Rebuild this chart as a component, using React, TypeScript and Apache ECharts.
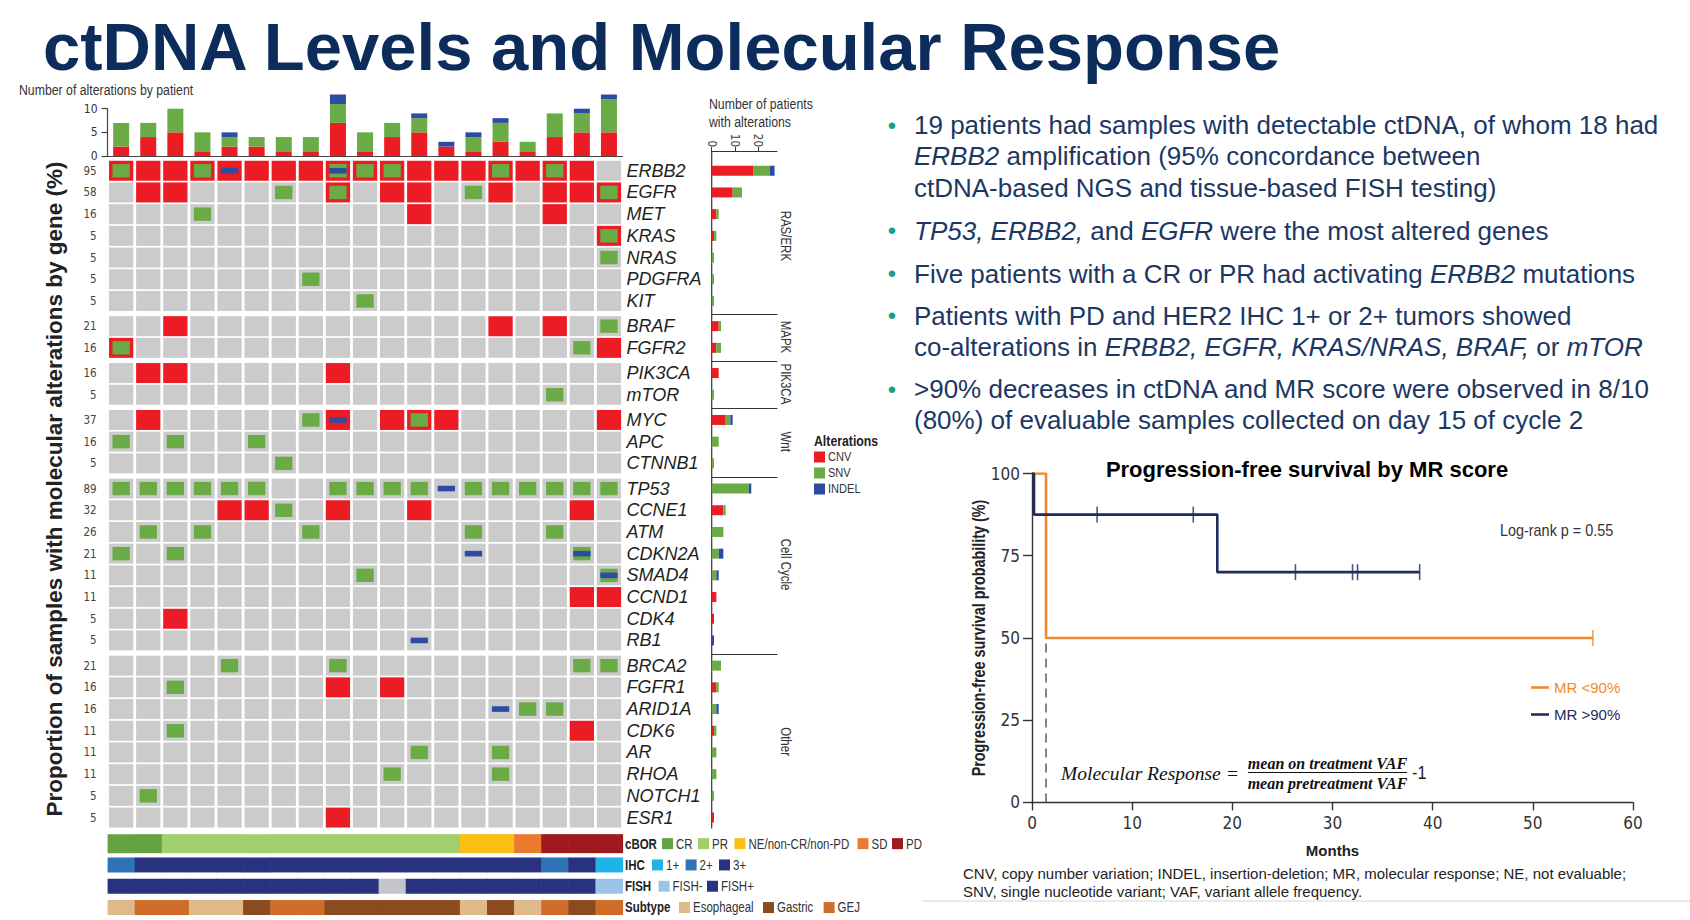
import React, { useEffect, useRef } from "react";
import * as echarts from "echarts";

const NARROW = "'Liberation Sans Narrow', 'Arial Narrow', 'DejaVu Sans Condensed', sans-serif";
const SANS = "'Liberation Sans', Arial, Helvetica, sans-serif";
const SERIF = "'Liberation Serif', 'Times New Roman', serif";
const NSCALE = 0.82; // horizontal squeeze that emulates a condensed face

const RED = "#ec1c24";
const GREEN = "#6aab45";
const BLUE = "#2d4ba0";
const GRAY = "#cbcbcb";
const TITLE_NAVY = "#0c2c5c";
const TEXT_NAVY = "#1c3764";
const TEAL = "#17a08a";
const KM_NAVY = "#222b5e";
const KM_ORANGE = "#ef8a2a";

// ---------------- data ----------------
const patients = ["P1","P2","P3","P4","P5","P6","P7","P8","P9","P10","P11","P12","P13","P14","P15","P16","P17","P18","P19"];

const patientCNV = [2,4,5,1,2,2,1,1,7,1,4,5,2,1,3,1,4,5,5];
const patientSNV = [5,3,5,4,2,2,3,3,4,4,3,3,0,3,4,2,5,4,7];
const patientINDEL = [0,0,0,0,1,0,0,0,2,0,0,1,1,1,1,0,0,1,1];

const groupLabels = ["RAS/ERK","MAPK","PIK3CA","Wnt","Cell Cycle","Other"];
const geneGroupSize = [7,2,2,3,8,8];
const geneNames = [
  "ERBB2","EGFR","MET","KRAS","NRAS","PDGFRA","KIT",
  "BRAF","FGFR2",
  "PIK3CA","mTOR",
  "MYC","APC","CTNNB1",
  "TP53","CCNE1","ATM","CDKN2A","SMAD4","CCND1","CDK4","RB1",
  "BRCA2","FGFR1","ARID1A","CDK6","AR","RHOA","NOTCH1","ESR1",
];
const genePercent = [95,58,16,5,5,5,5,21,16,16,5,37,16,5,89,32,26,21,11,11,5,5,21,16,16,11,11,11,5,5];
const geneCNV =   [18,9,2,1,0,0,0, 3,2, 3,0, 6,0,0, 0,5,0,0,0,2,1,0, 0,2,0,1,0,0,0,1];
const geneSNV =   [7,4,1,1,1,1,1, 1,2, 0,1, 2,3,1, 16,1,5,3,2,0,0,0, 4,1,2,1,2,2,1,0];
const geneINDEL = [2,0,0,0,0,0,0, 0,0, 0,0, 1,0,0, 1,0,0,2,1,0,0,1, 0,0,1,0,0,0,0,0];

// patient number (1-based) -> alteration code (C = CNV, S = SNV, I = INDEL)
const geneAlterations: Record<string, [number, string][]> = {
  ERBB2: [[1,"CS"],[2,"C"],[3,"C"],[4,"CS"],[5,"CI"],[6,"C"],[7,"C"],[8,"C"],[9,"CSI"],[10,"CS"],[11,"CS"],[12,"C"],[13,"C"],[14,"C"],[15,"CS"],[16,"C"],[17,"CS"],[18,"C"]],
  EGFR: [[2,"C"],[3,"C"],[7,"S"],[9,"CS"],[11,"C"],[12,"C"],[14,"S"],[15,"C"],[17,"C"],[18,"C"],[19,"CS"]],
  MET: [[4,"S"],[12,"C"],[17,"C"]],
  KRAS: [[19,"CS"]],
  NRAS: [[19,"S"]],
  PDGFRA: [[8,"S"]],
  KIT: [[10,"S"]],
  BRAF: [[3,"C"],[15,"C"],[17,"C"],[19,"S"]],
  FGFR2: [[1,"CS"],[18,"S"],[19,"C"]],
  PIK3CA: [[2,"C"],[3,"C"],[9,"C"]],
  mTOR: [[17,"S"]],
  MYC: [[2,"C"],[8,"S"],[9,"CI"],[11,"C"],[12,"CS"],[13,"C"],[19,"C"]],
  APC: [[1,"S"],[3,"S"],[6,"S"]],
  CTNNB1: [[7,"S"]],
  TP53: [[1,"S"],[2,"S"],[3,"S"],[4,"S"],[5,"S"],[6,"S"],[9,"S"],[10,"S"],[11,"S"],[12,"S"],[13,"I"],[14,"S"],[15,"S"],[16,"S"],[17,"S"],[18,"S"],[19,"S"]],
  CCNE1: [[5,"C"],[6,"C"],[7,"S"],[9,"C"],[12,"C"],[18,"C"]],
  ATM: [[2,"S"],[4,"S"],[8,"S"],[14,"S"],[17,"S"]],
  CDKN2A: [[1,"S"],[3,"S"],[14,"I"],[18,"SI"]],
  SMAD4: [[10,"S"],[19,"SI"]],
  CCND1: [[18,"C"],[19,"C"]],
  CDK4: [[3,"C"]],
  RB1: [[12,"I"]],
  BRCA2: [[5,"S"],[9,"S"],[18,"S"],[19,"S"]],
  FGFR1: [[3,"S"],[9,"C"],[11,"C"]],
  ARID1A: [[15,"I"],[16,"S"],[17,"S"]],
  CDK6: [[3,"S"],[18,"C"]],
  AR: [[12,"S"],[15,"S"]],
  RHOA: [[11,"S"],[15,"S"]],
  NOTCH1: [[2,"S"]],
  ESR1: [[9,"C"]],
};

const trackNames = ["cBOR","IHC","FISH","Subtype"];
const cborTrack = ["CR","CR","PR","PR","PR","PR","PR","PR","PR","PR","PR","PR","PR","NE","NE","SD","PD","PD","PD"];
const ihcTrack = ["2+","3+","3+","3+","3+","3+","3+","3+","3+","3+","3+","3+","3+","3+","3+","3+","2+","3+","1+"];
const fishTrack = ["+","+","+","+","+","+","+","+","+","+","NA","+","+","+","+","+","+","+","-"];
const subtypeTrack = ["Eso","GEJ","GEJ","Eso","Eso","Gas","GEJ","GEJ","Gas","Gas","Gas","Gas","Gas","Eso","Gas","Eso","GEJ","Gas","GEJ"];

const trackColors: Record<string, string>[] = [
  { CR: "#64a243", PR: "#a0cf6c", NE: "#fdbf14", SD: "#ec7a2e", PD: "#9f1a1f" },
  { "1+": "#1fb3e8", "2+": "#2f73b6", "3+": "#29327f" },
  { "-": "#9cc4e8", "+": "#29327f", NA: "#c4c4cc" },
  { Eso: "#ddb98b", Gas: "#8c4a1f", GEJ: "#d06c2a" },
];

// Kaplan-Meier (months, % survival)
const kmLowMR = [[0,100],[1.4,50],[56,50]];
const kmHighMR = [[0,100],[0.2,87.5],[18.5,70],[38.7,70]];
const censorLowMR = [[56,50]];
const censorHighMR = [[6.5,87.5],[16.1,87.5],[26.3,70],[32.0,70],[32.5,70],[38.7,70]];
const medianLowMR = [[1.4,0],[1.4,50]];

// ---------------- layout ----------------
const W = 1690, H = 920;
const COL_L = 107.6, COL_W = 514.9;
const ROW_H = 21.7, GROUP_GAP = 3.5, GRID_TOP0 = 159.9;
const RB_L = 711.7, RB_W = 65.2, RB_MAX = 28;
const ANNO_TOP = 833, ANNO_H = 85.2;
const trackHeights = [19, 15, 15, 15];

function renderCell(params: any, api: any) {
  const c = api.coord([api.value(0), api.value(1)]);
  const m = api.value(2);
  const band = api.size([1, 1]);
  const w = band[0] - 2.8, h = band[1] - 1.7;
  const x0 = c[0] - w / 2, y0 = c[1] - h / 2;
  const kids: any[] = [
    { type: "rect", shape: { x: x0, y: y0, width: w, height: h }, style: { fill: m & 1 ? RED : GRAY } },
  ];
  if (m & 2) kids.push({ type: "rect", shape: { x: x0 + 3.5, y: y0 + 3.3, width: w - 7, height: h - 6.6 }, style: { fill: GREEN } });
  if (m & 4) kids.push({ type: "rect", shape: { x: x0 + 3.5, y: c[1] - 2.8, width: w - 7, height: 5.6 }, style: { fill: BLUE } });
  return { type: "group", children: kids };
}

function buildOption() {
  const grid: any[] = [], xAxis: any[] = [], yAxis: any[] = [], series: any[] = [], graphic: any[] = [];
  const hidden = { show: false };

  const text = (x: number, y: number, t: string, st: any = {}, extra: any = {}) => ({
    type: "text", x, y, ...extra,
    style: { text: t, fontFamily: SANS, fontSize: 14, fill: "#222", textAlign: "left", textVerticalAlign: "middle", ...st },
  });
  const ntext = (x: number, y: number, t: string, st: any = {}, extra: any = {}) =>
    text(x, y, t, st, { scaleX: NSCALE, ...extra });
  const sq = (x: number, y: number, color: string, s = 11) => ({ type: "rect", shape: { x, y: y - s / 2, width: s, height: s }, style: { fill: color } });

  // top bars: alterations by patient
  grid.push({ left: COL_L, top: 108.7, width: COL_W, height: 47.3 });
  xAxis.push({ type: "category", gridIndex: 0, data: patients, axisLine: { show: true, lineStyle: { color: "#444", width: 1.2 } }, axisTick: hidden, axisLabel: hidden });
  yAxis.push({
    type: "value", gridIndex: 0, min: 0, max: 10, interval: 5,
    axisLine: { show: true, lineStyle: { color: "#444", width: 1.2 } },
    axisTick: { show: true, length: 6, lineStyle: { color: "#444", width: 1.2 } },
    axisLabel: { fontFamily: NARROW, fontSize: 12, color: "#333", margin: 10 },
    splitLine: hidden,
  });
  const topBar = (name: string, data: number[], color: string) => ({
    type: "bar", name, xAxisIndex: 0, yAxisIndex: 0, stack: "top", data, barWidth: 16, clip: false, silent: true, itemStyle: { color },
  });
  series.push(topBar("CNV", patientCNV, RED), topBar("SNV", patientSNV, GREEN), topBar("INDEL", patientINDEL, BLUE));

  // oncoprint groups + right bars
  const tops: number[] = [];
  let yCursor = GRID_TOP0;
  geneGroupSize.forEach((n) => { tops.push(yCursor); yCursor += n * ROW_H + GROUP_GAP; });

  let start = 0;
  tops.forEach((top, g) => {
    const n = geneGroupSize[g];
    const genes = geneNames.slice(start, start + n);
    const pcts = genePercent.slice(start, start + n).map(String);
    const height = n * ROW_H;

    const gi = grid.length;
    grid.push({ left: COL_L, top, width: COL_W, height });
    const xi = xAxis.length;
    xAxis.push({ type: "category", gridIndex: gi, data: patients, show: false });
    yAxis.push({
      type: "category", gridIndex: gi, data: pcts, inverse: true, position: "left",
      axisLine: hidden, axisTick: hidden,
      axisLabel: { interval: 0, fontFamily: NARROW, fontSize: 11.5, color: "#444", margin: 11 },
    });
    const yiR = yAxis.length;
    yAxis.push({
      type: "category", gridIndex: gi, data: genes, inverse: true, position: "right",
      axisLine: hidden, axisTick: hidden,
      axisLabel: { interval: 0, fontFamily: SANS, fontStyle: "italic", fontSize: 18, color: "#231f20", margin: 4 },
    });
    const cells: number[][] = [];
    genes.forEach((gene, r) => {
      const map = new Map<number, string>(geneAlterations[gene].map(([p, c]) => [p, c] as [number, string]));
      patients.forEach((_, p) => {
        const code = map.get(p + 1) || "";
        const mask = (code.includes("C") ? 1 : 0) | (code.includes("S") ? 2 : 0) | (code.includes("I") ? 4 : 0);
        cells.push([p, r, mask]);
      });
    });
    series.push({ type: "custom", xAxisIndex: xi, yAxisIndex: yiR, data: cells, renderItem: renderCell, silent: true, encode: { x: 0, y: 1 } });

    const rgi = grid.length;
    grid.push({ left: RB_L, top, width: RB_W, height });
    const rxi = xAxis.length;
    xAxis.push({
      type: "value", gridIndex: rgi, min: 0, max: RB_MAX, interval: 10, position: "top",
      offset: g === 0 ? 8.9 : 0.8,
      axisLine: { show: true, lineStyle: { color: "#333", width: 1.2 } },
      axisTick: { show: g === 0, length: 4, lineStyle: { color: "#333", width: 1 } },
      axisLabel: { show: g === 0, rotate: 90, fontFamily: NARROW, fontSize: 11.5, color: "#444", margin: 4, showMaxLabel: false },
      splitLine: hidden,
    });
    const ryi = yAxis.length;
    yAxis.push({ type: "category", gridIndex: rgi, data: genes, inverse: true, show: false });
    const rb = (name: string, arr: number[], color: string) => ({
      type: "bar", name, xAxisIndex: rxi, yAxisIndex: ryi, stack: "rb" + g, barWidth: 10, silent: true,
      data: arr.slice(start, start + n), itemStyle: { color },
    });
    series.push(rb("CNV", geneCNV, RED), rb("SNV", geneSNV, GREEN), rb("INDEL", geneINDEL, BLUE));

    graphic.push(ntext(785.5, top + height / 2, groupLabels[g], { fontSize: 14, fill: "#333", textAlign: "center" }, { rotation: -Math.PI / 2, scaleX: NSCALE }));
    start += n;
  });

  // annotation tracks
  const palette: string[] = [];
  const annoData: number[][] = [];
  [cborTrack, ihcTrack, fishTrack, subtypeTrack].forEach((track, t) => {
    track.forEach((key, p) => {
      palette.push(trackColors[t][key]);
      annoData.push([p, t, palette.length - 1]);
    });
  });
  const agi = grid.length;
  grid.push({ left: COL_L, top: ANNO_TOP, width: COL_W, height: ANNO_H });
  const axi = xAxis.length;
  xAxis.push({ type: "category", gridIndex: agi, data: patients, show: false });
  const ayi = yAxis.length;
  yAxis.push({ type: "category", gridIndex: agi, data: trackNames, inverse: true, show: false });
  series.push({
    type: "custom", xAxisIndex: axi, yAxisIndex: ayi, data: annoData, silent: true, encode: { x: 0, y: 1 },
    renderItem: (params: any, api: any) => {
      const t = api.value(1);
      const c = api.coord([api.value(0), t]);
      const bw = api.size([1, 1])[0];
      const h = trackHeights[t];
      return { type: "rect", shape: { x: c[0] - bw / 2, y: c[1] - h / 2, width: bw + 0.6, height: h }, style: { fill: palette[api.value(2)] } };
    },
  });

  // KM plot
  const kgi = grid.length;
  grid.push({ left: 1032, top: 473.5, width: 601, height: 328.9 });
  const kxi = xAxis.length;
  xAxis.push({
    type: "value", gridIndex: kgi, min: 0, max: 60, interval: 10,
    axisLine: { show: true, lineStyle: { color: "#333", width: 1.4 } },
    axisTick: { show: true, length: 8, lineStyle: { color: "#333", width: 1.4 } },
    axisLabel: { fontFamily: NARROW, fontSize: 17, color: "#333", margin: 12 },
    splitLine: hidden,
    name: "Months", nameLocation: "middle", nameGap: 41,
    nameTextStyle: { fontFamily: SANS, fontWeight: "bold", fontSize: 15, color: "#222" },
  });
  const kyi = yAxis.length;
  yAxis.push({
    type: "value", gridIndex: kgi, min: 0, max: 100, interval: 25,
    axisLine: { show: true, lineStyle: { color: "#333", width: 1.4 } },
    axisTick: { show: true, length: 9, lineStyle: { color: "#333", width: 1.4 } },
    axisLabel: { fontFamily: NARROW, fontSize: 17, color: "#333", margin: 12 },
    splitLine: hidden,
  });
  series.push(
    { type: "line", name: "median", xAxisIndex: kxi, yAxisIndex: kyi, data: medianLowMR, showSymbol: false, silent: true, lineStyle: { color: "#444", width: 1.3, type: [9, 6] }, z: 2 },
    { type: "line", name: "MR <90%", xAxisIndex: kxi, yAxisIndex: kyi, data: kmLowMR, step: "end", showSymbol: false, silent: true, lineStyle: { color: KM_ORANGE, width: 2.6 }, itemStyle: { color: KM_ORANGE }, z: 3 },
    { type: "line", name: "MR >90%", xAxisIndex: kxi, yAxisIndex: kyi, data: kmHighMR, step: "end", showSymbol: false, silent: true, lineStyle: { color: KM_NAVY, width: 2.6 }, itemStyle: { color: KM_NAVY }, z: 4 },
    { type: "scatter", name: "censor-low", xAxisIndex: kxi, yAxisIndex: kyi, data: censorLowMR, symbol: "rect", symbolSize: [1.6, 16], silent: true, itemStyle: { color: KM_ORANGE }, z: 5 },
    { type: "scatter", name: "censor-high", xAxisIndex: kxi, yAxisIndex: kyi, data: censorHighMR, symbol: "rect", symbolSize: [1.6, 16], silent: true, itemStyle: { color: KM_NAVY }, z: 5 },
  );

  // ---------- graphics ----------
  graphic.push(text(43, 46, "ctDNA Levels and Molecular Response", { fontWeight: "bold", fontSize: 67, fill: TITLE_NAVY }));
  graphic.push(ntext(19, 90, "Number of alterations by patient", { fontSize: 15, fill: "#333" }));
  graphic.push(text(54, 489, "Proportion of samples with molecular alterations by gene (%)", { fontWeight: "bold", fontSize: 22.5, fill: "#222", textAlign: "center" }, { rotation: Math.PI / 2 }));
  graphic.push(ntext(709, 104.5, "Number of patients", { fontSize: 15, fill: "#333" }));
  graphic.push(ntext(709, 122, "with alterations", { fontSize: 15, fill: "#333" }));
  graphic.push({ type: "line", shape: { x1: RB_L, y1: 151, x2: RB_L, y2: yCursor - GROUP_GAP }, style: { stroke: "#333", lineWidth: 1.2 } });

  // Alterations legend
  graphic.push(ntext(814, 441, "Alterations", { fontWeight: "bold", fontSize: 15, fill: "#222" }));
  [["CNV", RED], ["SNV", GREEN], ["INDEL", BLUE]].forEach(([lab, col], i) => {
    const y = 457 + i * 16;
    graphic.push(sq(814, y, col, 11));
    graphic.push(ntext(828, y, lab, { fontSize: 13.5, fill: "#333" }));
  });

  // annotation legends
  const trackY = [0, 1, 2, 3].map((i) => ANNO_TOP + (i + 0.5) * (ANNO_H / 4));
  const legendRows: [string, [number, string, string][]][] = [
    ["cBOR", [[662, trackColors[0].CR, "CR"], [698, trackColors[0].PR, "PR"], [734.5, trackColors[0].NE, "NE/non-CR/non-PD"], [857.5, trackColors[0].SD, "SD"], [892, trackColors[0].PD, "PD"]]],
    ["IHC", [[652, trackColors[1]["1+"], "1+"], [685.6, trackColors[1]["2+"], "2+"], [719, trackColors[1]["3+"], "3+"]]],
    ["FISH", [[658.6, trackColors[2]["-"], "FISH-"], [707, trackColors[2]["+"], "FISH+"]]],
    ["Subtype", [[679, trackColors[3].Eso, "Esophageal"], [763, trackColors[3].Gas, "Gastric"], [823.6, trackColors[3].GEJ, "GEJ"]]],
  ];
  legendRows.forEach(([head, items], r) => {
    const y = trackY[r];
    graphic.push(ntext(625, y, head, { fontWeight: "bold", fontSize: 14, fill: "#222" }));
    items.forEach(([x, col, lab]) => {
      graphic.push(sq(x, y, col, 11));
      graphic.push(ntext(x + 14, y, lab, { fontSize: 14, fill: "#333" }));
    });
  });

  // bullets
  const BF = 26;
  const rich = { i: { fontFamily: SANS, fontStyle: "italic", fontSize: BF, fill: TEXT_NAVY } };
  const bulletLines: [number, string, boolean][] = [
    [125, "19 patients had samples with detectable ctDNA, of whom 18 had", true],
    [156.3, "{i|ERBB2} amplification (95% concordance between", false],
    [187.6, "ctDNA-based NGS and tissue-based FISH testing)", false],
    [230.7, "{i|TP53, ERBB2,} and {i|EGFR} were the most altered genes", true],
    [273.8, "Five patients with a CR or PR had activating {i|ERBB2} mutations", true],
    [315.9, "Patients with PD and HER2 IHC 1+ or 2+ tumors showed", true],
    [347.1, "co-alterations in {i|ERBB2, EGFR, KRAS/NRAS, BRAF,} or {i|mTOR}", false],
    [389.2, ">90% decreases in ctDNA and MR score were observed in 8/10", true],
    [420.4, "(80%) of evaluable samples collected on day 15 of cycle 2", false],
  ];
  bulletLines.forEach(([y, t, dot]) => {
    if (dot) graphic.push(text(892, y, "•", { fontSize: 24, fill: TEAL, textAlign: "center" }));
    graphic.push(text(914, y, t, { fontSize: BF, fill: TEXT_NAVY, rich }));
  });

  // KM annotations
  graphic.push(text(1307, 469.5, "Progression-free survival by MR score", { fontWeight: "bold", fontSize: 22, fill: "#000", textAlign: "center" }));
  graphic.push(text(979, 638, "Progression-free survival probability (%)", { fontWeight: "bold", fontSize: 17.5, fill: "#222", textAlign: "center" }, { rotation: Math.PI / 2, scaleX: NSCALE }));
  graphic.push(text(1500, 530, "Log-rank p = 0.55", { fontSize: 16, fill: "#333" }, { scaleX: 0.9 }));
  graphic.push(text(1061, 773.5, "Molecular Response =", { fontFamily: SERIF, fontStyle: "italic", fontSize: 19.5, fill: "#111" }));
  graphic.push(text(1327.5, 763, "mean on treatment VAF", { fontFamily: SERIF, fontStyle: "italic", fontWeight: "bold", fontSize: 16, fill: "#111", textAlign: "center" }));
  graphic.push({ type: "line", shape: { x1: 1248, y1: 772.5, x2: 1407, y2: 772.5 }, style: { stroke: "#111", lineWidth: 1 } });
  graphic.push(text(1327.5, 783.5, "mean pretreatment VAF", { fontFamily: SERIF, fontStyle: "italic", fontWeight: "bold", fontSize: 16, fill: "#111", textAlign: "center" }));
  graphic.push(text(1412, 773.5, "-1", { fontSize: 18, fill: "#222" }, { scaleX: 0.9 }));

  // footnote
  graphic.push(text(963, 873, "CNV, copy number variation; INDEL, insertion-deletion; MR, molecular response; NE, not evaluable;", { fontSize: 15, fill: "#222" }));
  graphic.push(text(963, 891.5, "SNV, single nucleotide variant; VAF, variant allele frequency.", { fontSize: 15, fill: "#222" }));
  graphic.push({ type: "line", shape: { x1: 922, y1: 901, x2: 1690, y2: 901 }, style: { stroke: "#d4d4d4", lineWidth: 1 } });

  return {
    animation: false,
    backgroundColor: "#ffffff",
    grid, xAxis, yAxis, series, graphic,
    legend: {
      data: [
        { name: "MR <90%", textStyle: { color: KM_ORANGE } },
        { name: "MR >90%", textStyle: { color: KM_NAVY } },
      ],
      orient: "vertical", left: 1531, top: 680, padding: 0, icon: "rect", itemWidth: 18, itemHeight: 2.6, itemGap: 12,
      selectedMode: false,
      textStyle: { fontFamily: SANS, fontSize: 15 },
    },
  };
}

export default function App() {
  const ref = useRef<HTMLDivElement>(null);
  useEffect(() => {
    if (!ref.current) return;
    const chart = echarts.init(ref.current, null, { renderer: "svg" });
    chart.setOption(buildOption() as any);
    return () => chart.dispose();
  }, []);
  return <div ref={ref} style={{ position: "fixed", left: 0, top: 0, width: W, height: H, background: "#fff" }} />;
}
